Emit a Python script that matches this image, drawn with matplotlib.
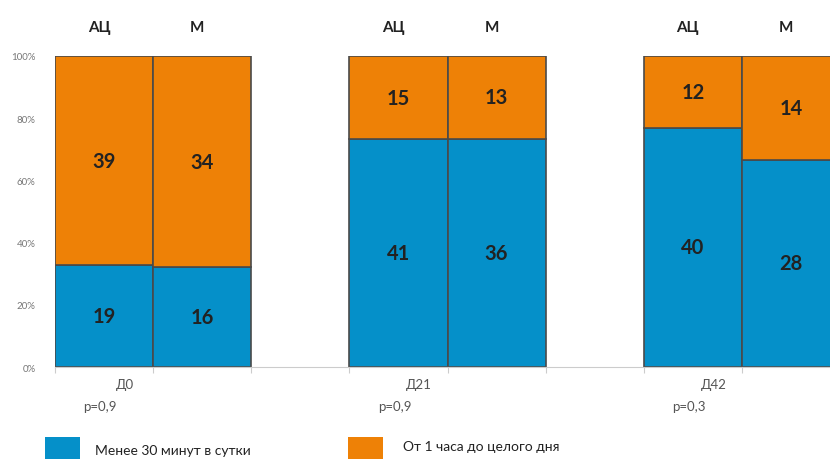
import matplotlib.pyplot as plt
import numpy as np

plt.rcParams['font.family'] = ['Lato', 'DejaVu Sans']

# data
days = ['Д0', 'Д21', 'Д42']
p_vals = ['p=0,9', 'p=0,9', 'p=0,3']
groups = ['АЦ', 'М']
less30 = [19, 16, 41, 36, 40, 28]      # Менее 30 минут в сутки
hour_day = [39, 34, 15, 13, 12, 14]    # От 1 часа до целого дня
xpos = [0, 1, 3, 4, 6, 7]

blue = '#0590c9'
orange = '#ee8106'

less30 = np.array(less30, dtype=float)
hour_day = np.array(hour_day, dtype=float)
tot = less30 + hour_day
b_pct = less30 / tot * 100
o_pct = hour_day / tot * 100

fig = plt.figure(figsize=(8.3, 4.6), dpi=100)
ax = fig.add_axes([55 / 830, 1 - 368 / 460, (840 - 55) / 830, 311 / 460])

ax.bar(xpos, b_pct, width=1, color=blue, edgecolor='#4a4a4a', linewidth=1.2)
ax.bar(xpos, o_pct, bottom=b_pct, width=1, color=orange, edgecolor='#4a4a4a', linewidth=1.2)

# numbers in the middle of each piece
for i, x in enumerate(xpos):
    ax.text(x, b_pct[i] / 2, f'{int(less30[i])}', ha='center', va='center',
            fontsize=14.5, fontweight='bold', color='#222222')
    ax.text(x, b_pct[i] + o_pct[i] / 2, f'{int(hour_day[i])}', ha='center', va='center',
            fontsize=14.5, fontweight='bold', color='#222222')
    ax.text(x - 0.05, 109.3, groups[i % 2], ha='center', va='center',
            fontsize=11, fontweight='bold', color='#222222')

ax.set_xlim(-0.5, 7.5)
ax.set_ylim(0, 100)
ax.set_yticks(range(0, 101, 20))
ax.set_yticklabels([f'{v}%' for v in range(0, 101, 20)], fontsize=7, color='#777777')
ax.set_xticks(np.arange(-0.5, 8, 1))
ax.set_xticklabels([])
ax.tick_params(axis='y', length=0, pad=14)
ax.tick_params(axis='x', length=4, color='#cccccc', direction='out')
for s in ['top', 'right', 'left']:
    ax.spines[s].set_visible(False)
ax.spines['bottom'].set_color('#cccccc')

# day labels and p-values under the axis
for k, d in enumerate(days):
    ax.text(3 * k + 0.21, -5.5, d, ha='center', va='center', fontsize=9.5, color='#555555')
    ax.text(3 * k - 0.21, -12.5, p_vals[k], ha='left', va='center', fontsize=9.5, color='#555555')

# legend drawn by hand, like the original slide
fig.patches.append(plt.Rectangle((45 / 830, 0), 35 / 830, 22 / 460, transform=fig.transFigure,
                                 facecolor=blue, edgecolor='none'))
fig.patches.append(plt.Rectangle((348 / 830, 0), 35 / 830, 22 / 460, transform=fig.transFigure,
                                 facecolor=orange, edgecolor='none'))
fig.text(95 / 830, 1 - 451 / 460, 'Менее 30 минут в сутки', fontsize=10, color='#222222', va='center')
fig.text(403 / 830, 1 - 447 / 460, 'От 1 часа до целого дня', fontsize=10, color='#222222', va='center')

plt.savefig('out.png', dpi=100)
